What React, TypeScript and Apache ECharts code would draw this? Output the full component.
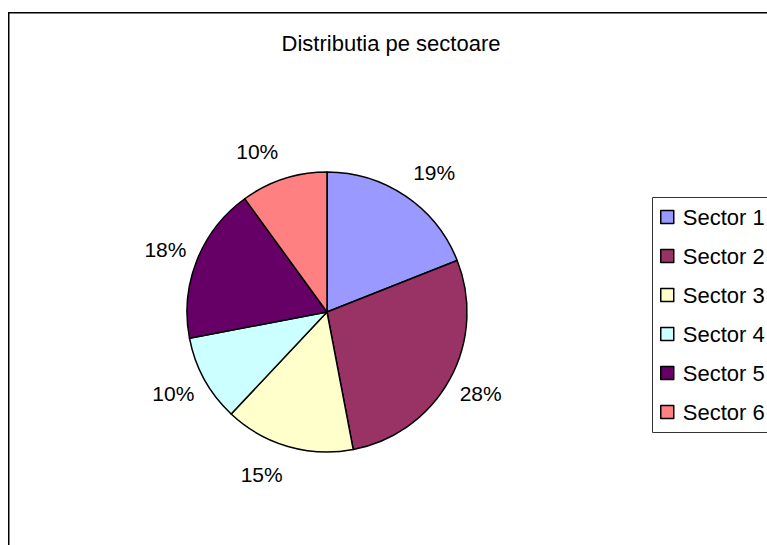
import React, { useEffect, useRef } from 'react';
import * as echarts from 'echarts';

const titleText = 'Distributia pe sectoare';
const categories = ['Sector 1', 'Sector 2', 'Sector 3', 'Sector 4', 'Sector 5', 'Sector 6'];
const values = [19, 28, 15, 10, 18, 10];
const colors = ['#9999FF', '#993366', '#FFFFCC', '#CCFFFF', '#660066', '#FF8080'];

const FONT = "'Liberation Sans', Arial, sans-serif";

export default function App() {
  const ref = useRef<HTMLDivElement>(null);
  useEffect(() => {
    const chart = echarts.init(ref.current!, null, { renderer: 'svg' });
    const cx = 327, cy = 312, r = 140;
    const gap = 8, offX = 24, offY = 21;
    const total = values.reduce((a, b) => a + b, 0);
    const mids: number[] = [];
    let acc = 0;
    values.forEach((v) => {
      mids.push(((acc + v / 2) / total) * 2 * Math.PI);
      acc += v;
    });
    chart.setOption({
      animation: false,
      title: {
        text: titleText,
        left: 391,
        textAlign: 'center',
        top: 32,
        padding: 0,
        textStyle: { fontFamily: FONT, fontSize: 22, fontWeight: 'normal', color: '#000', lineHeight: 22 },
      },
      legend: {
        orient: 'vertical',
        left: 660,
        top: 206,
        padding: 0,
        itemWidth: 13,
        itemHeight: 13,
        itemGap: 17,
        icon: 'rect',
        selectedMode: false,
        itemStyle: { borderColor: '#000', borderWidth: 1.5 },
        textStyle: { fontFamily: FONT, fontSize: 22, color: '#000', lineHeight: 22, padding: [0, 0, 0, 4] },
        data: categories,
      },
      graphic: [
        {
          type: 'rect',
          shape: { x: 8.75, y: 12.75, width: 800, height: 600 },
          style: { fill: 'none', stroke: '#000', lineWidth: 1.5 },
          silent: true,
        },
        {
          type: 'rect',
          shape: { x: 652.5, y: 197.5, width: 200, height: 235 },
          style: { fill: 'none', stroke: '#333', lineWidth: 1 },
          silent: true,
        },
      ],
      series: [
        {
          type: 'pie',
          center: [cx, cy],
          radius: r,
          startAngle: 90,
          clockwise: true,
          avoidLabelOverlap: false,
          silent: true,
          itemStyle: { borderColor: '#000', borderWidth: 1.5 },
          label: {
            show: true,
            position: 'outside',
            fontFamily: FONT,
            fontSize: 21,
            color: '#000',
            formatter: (p: any) => Math.round(p.percent) + '%',
          },
          labelLine: { show: false },
          labelLayout: (params: any) => {
            const a = mids[params.dataIndex];
            const dx = Math.sin(a);
            const dy = -Math.cos(a);
            return {
              x: cx + dx * (r + gap) + Math.sign(dx) * offX,
              y: cy + dy * (r + gap) + dy * offY,
              align: 'center',
              verticalAlign: 'middle',
            };
          },
          data: categories.map((name, i) => ({ name, value: values[i], itemStyle: { color: colors[i] } })),
        },
      ],
    });
    return () => chart.dispose();
  }, []);
  return <div ref={ref} style={{ position: 'absolute', left: 0, top: 0, width: 767, height: 545 }} />;
}
